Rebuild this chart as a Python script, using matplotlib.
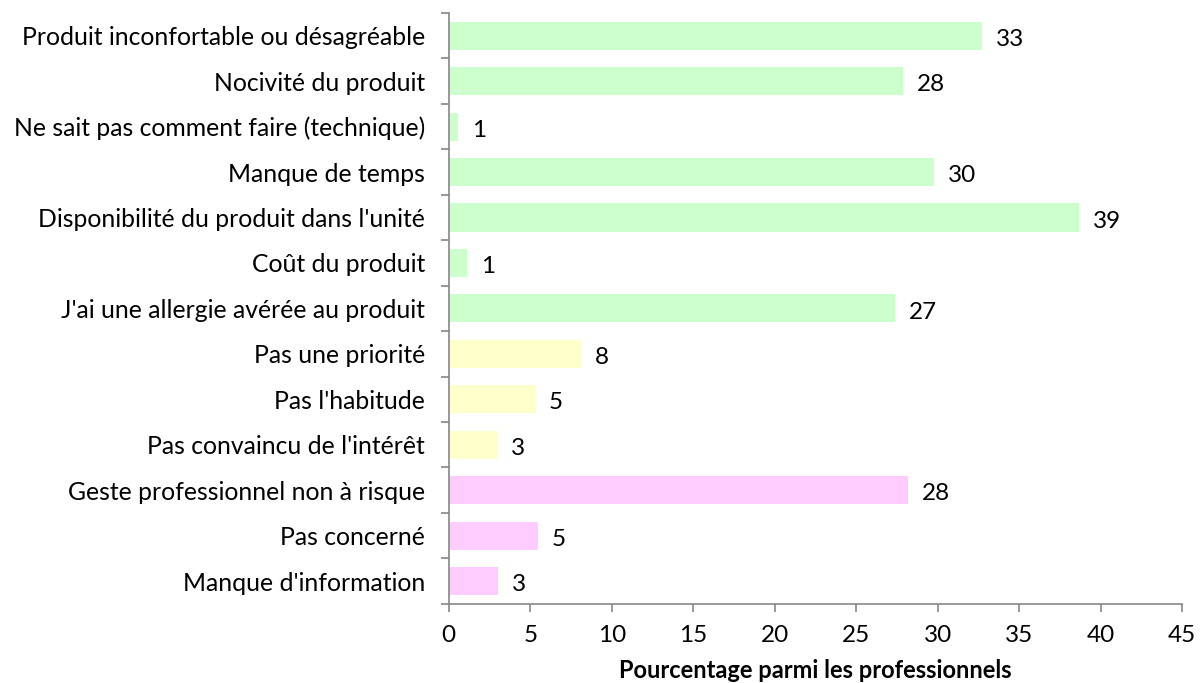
import matplotlib.pyplot as plt
import numpy as np

plt.rcParams['font.family'] = ['Lato', 'DejaVu Sans']

# Données (de haut en bas)
categories = [
    "Produit inconfortable ou désagréable",
    "Nocivité du produit",
    "Ne sait pas comment faire (technique)",
    "Manque de temps",
    "Disponibilité du produit dans l'unité",
    "Coût du produit",
    "J'ai une allergie avérée au produit",
    "Pas une priorité",
    "Pas l'habitude",
    "Pas convaincu de l'intérêt",
    "Geste professionnel non à risque",
    "Pas concerné",
    "Manque d'information",
]
valeurs = [32.7, 27.9, 0.55, 29.8, 38.7, 1.1, 27.4, 8.1, 5.3, 2.95, 28.2, 5.45, 3.0]
etiquettes = ["33", "28", "1", "30", "39", "1", "27", "8", "5", "3", "28", "5", "3"]
groupes = ["g"] * 7 + ["y"] * 3 + ["p"] * 3
couleurs_groupes = {"g": "#CCFFCC", "y": "#FFFFCC", "p": "#FFCCFF"}

fig, ax = plt.subplots(figsize=(12, 6.83), dpi=100)
fig.subplots_adjust(left=0.374, right=0.985, top=0.981, bottom=0.116)

y = np.arange(len(categories))[::-1]
couleurs = [couleurs_groupes[g] for g in groupes]
ax.barh(y, valeurs, height=0.62, color=couleurs, edgecolor='none')

for yi, v, lab in zip(y, valeurs, etiquettes):
    ax.text(v + 0.85, yi - 0.08, lab, va='center', ha='left', fontsize=17.5, color='black')

ax.set_xlim(0, 45)
ax.set_ylim(-0.5, len(categories) - 0.5)
ax.set_xticks(np.arange(0, 46, 5))
ax.set_yticks(y)
ax.set_yticklabels(categories, fontsize=17.8)
ax.set_yticks(np.arange(-0.5, len(categories), 1), minor=True)
ax.tick_params(axis='y', which='major', length=0, pad=17)
ax.tick_params(axis='y', which='minor', length=6, color='#868686', width=1.2)
ax.tick_params(axis='x', length=6, color='#868686', width=1.2, labelsize=17.5, pad=9)

for s in ['top', 'right']:
    ax.spines[s].set_visible(False)
for s in ['left', 'bottom']:
    ax.spines[s].set_color('#868686')
    ax.spines[s].set_linewidth(1.2)

ax.set_xlabel('Pourcentage parmi les professionnels', fontsize=17, fontweight='bold', labelpad=10)

plt.savefig('out.png', dpi=100)
